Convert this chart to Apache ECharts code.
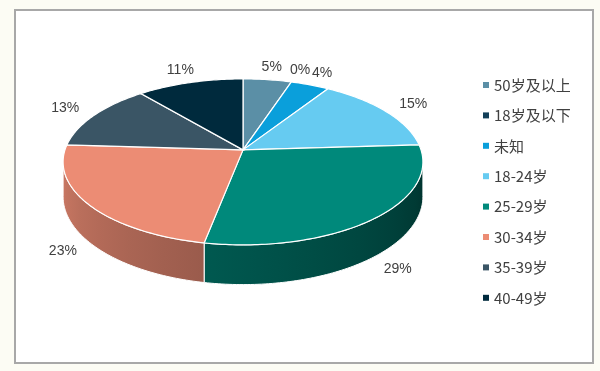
<!DOCTYPE html>
<html>
<head>
<meta charset="utf-8">
<script src="https://cdn.jsdelivr.net/npm/echarts@6/dist/echarts.min.js"></script>
<style>
html,body{margin:0;padding:0;background:#fcfcf4;}
#chart{width:600px;height:371px;}
</style>
</head>
<body>
<div id="chart"></div>
<script>
// ---- data ----
const categories = ['50岁及以上','18岁及以下','未知','18-24岁','25-29岁','30-34岁','35-39岁','40-49岁'];
const values = [5, 0, 4, 15, 29, 23, 13, 11];
const colors = ['#5b8fa6','#123f59','#0a9fdb','#66cbf1','#00897b','#ec8c74','#3a5565','#002a3d'];

// ---- layout (fractions of chart size) ----
const L = { cx: 0.405, cy: 0.404, a: 0.2967, b: 0.219, depth: 0.0916, k: 0.1446, labelBack: 1.21, labelFront: 1.15 };

const total = values.reduce((s, v) => s + v, 0);
const DEG = Math.PI / 180;
const SIL1 = 98.3 * DEG, SIL2 = 261.7 * DEG;

function shade(hex, f) {
  const n = parseInt(hex.slice(1), 16);
  const r = Math.round(((n >> 16) & 255) * f), g = Math.round(((n >> 8) & 255) * f), b = Math.round((n & 255) * f);
  return 'rgb(' + r + ',' + g + ',' + b + ')';
}

function renderItem(params, api) {
  const idx = api.value(0);
  const W = api.getWidth(), H = api.getHeight();
  const cx = W * L.cx, cy = H * L.cy, a = W * L.a, b = H * L.b, h = H * L.depth, k = L.k;
  function proj(t, f, down) {
    const X = f * Math.sin(t), Z = f * Math.cos(t);
    const d = 1 + k * Z;
    return [cx + a * X / d, cy - b * Z / d + (down || 0) / d];
  }
  let before = 0;
  for (let i = 0; i < idx; i++) before += values[i];
  const t1 = before / total * 2 * Math.PI;
  const t2 = (before + values[idx]) / total * 2 * Math.PI;
  const children = [];
  const base = colors[idx];
  if (t2 > t1) {
    // front wall
    const lo = Math.max(t1, SIL1), hi = Math.min(t2, SIL2);
    if (hi > lo) {
      const n = Math.max(2, Math.ceil((hi - lo) / DEG));
      const topPts = [], botPts = [], samples = [];
      for (let j = 0; j <= n; j++) {
        const t = lo + (hi - lo) * j / n;
        topPts.push(proj(t, 1, 0));
        botPts.push(proj(t, 1, h));
        samples.push(t);
      }
      let minX = Infinity, maxX = -Infinity;
      topPts.forEach(p => { minX = Math.min(minX, p[0]); maxX = Math.max(maxX, p[0]); });
      const stops = [];
      for (let j = 0; j <= 6; j++) {
        const jj = Math.round(j / 6 * n);
        const t = samples[jj];
        const s = Math.min(0.9, 0.38 + (t - SIL1) / DEG * 0.00294);
        stops.push({ offset: (topPts[jj][0] - minX) / Math.max(1, maxX - minX), color: shade(base, s) });
      }
      stops.sort((p, q) => p.offset - q.offset);
      children.push({
        type: 'polygon',
        shape: { points: topPts.concat(botPts.reverse()) },
        style: { fill: { type: 'linear', x: 0, y: 0, x2: 1, y2: 0, colorStops: stops }, stroke: '#ffffff', lineWidth: 1 }
      });
    }
    // top face
    const pts = [[cx, cy]];
    const n2 = Math.max(2, Math.ceil((t2 - t1) / DEG));
    for (let j = 0; j <= n2; j++) pts.push(proj(t1 + (t2 - t1) * j / n2, 1, 0));
    children.push({
      type: 'polygon',
      shape: { points: pts },
      style: { fill: base, stroke: '#ffffff', lineWidth: 1.2 }
    });
  }
  // label
  const tm = (t1 + t2) / 2;
  const front = Math.cos(tm) < 0;
  const lp = proj(tm, front ? L.labelFront : L.labelBack, front ? h : 0);
  const pct = Math.round(values[idx] / total * 100) + '%';
  children.push({
    type: 'text',
    x: lp[0], y: lp[1],
    style: { text: pct, fill: '#404040', font: '14px "Liberation Sans", Arial, sans-serif', align: 'center', verticalAlign: 'middle', textAlign: 'center', textVerticalAlign: 'middle' }
  });
  return { type: 'group', children: children };
}

const chart = echarts.init(document.getElementById('chart'), null, { renderer: 'canvas' });
chart.setOption({
  animation: false,
  backgroundColor: '#fcfcf4',
  graphic: [{
    type: 'rect', z: -10, silent: true,
    shape: { x: 15, y: 10, width: 578, height: 353 },
    style: { fill: '#ffffff', stroke: '#a8a8a8', lineWidth: 2 }
  }],
  legend: {
    orient: 'vertical',
    left: 478, top: 72,
    icon: 'rect', itemWidth: 6, itemHeight: 6, itemGap: 14.4,
    textStyle: { fontSize: 15, lineHeight: 16, color: '#404040', fontFamily: '"Noto Sans CJK SC", sans-serif' },
    data: categories
  },
  series: categories.map((name, i) => ({
    type: 'custom',
    name: name,
    coordinateSystem: 'none',
    itemStyle: { color: colors[i] },
    data: [[i]],
    renderItem: renderItem
  }))
});
</script>
</body>
</html>
